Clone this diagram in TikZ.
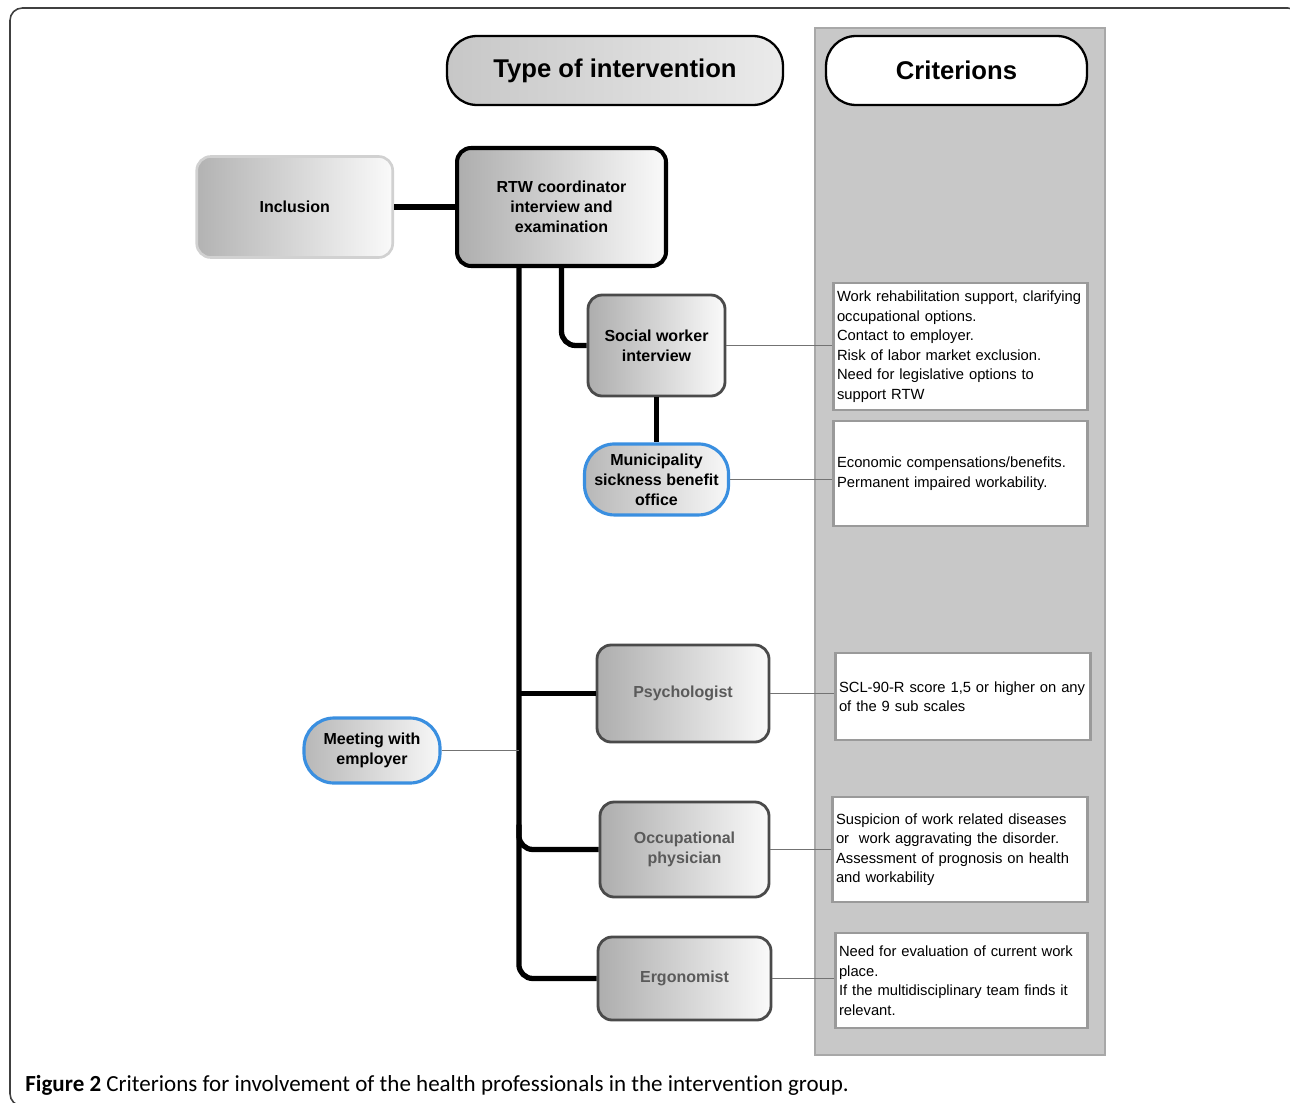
\documentclass[tikz,border=0pt]{standalone}
\usepackage{fontspec}
\setmainfont{Liberation Sans}
\newfontfamily\capfont[Ligatures=NoCommon]{Carlito}
\usetikzlibrary{positioning,calc}

\definecolor{colgray}{HTML}{C8C8C8}
\definecolor{coledge}{HTML}{A8A8A8}
\definecolor{critedge}{HTML}{9A9A9A}
\definecolor{boxedge}{HTML}{4A4A4A}
\definecolor{ovalblue}{HTML}{3A8FE0}
\definecolor{txtgray}{HTML}{5A5A5A}

\tikzset{
  hdr/.style={draw,line width=1.3pt,rounded corners=0.6cm,minimum height=1.38cm,font=\bfseries\fontsize{14.6}{17}\selectfont},
  tbox/.style={draw=boxedge,line width=1.6pt,rounded corners=8pt,left color=black!32,right color=black!2,align=center,inner sep=2pt,font=\bfseries\fontsize{9.1}{11.4}\selectfont},
  oval/.style={draw=ovalblue,line width=1.8pt,rounded corners=0.6cm,left color=black!28,right color=black!3,align=center,inner sep=1pt,font=\bfseries\fontsize{9.1}{11.4}\selectfont},
  crit/.style={draw=critedge,line width=1.3pt,fill=white,align=left,inner sep=2pt,font=\fontsize{8.4}{11.1}\selectfont},
  conn/.style={line width=3pt,black},
  link/.style={line width=0.6pt,black!55}
}

\begin{document}
\begin{tikzpicture}[x=0.02cm,y=-0.02cm]
  \useasboundingbox (0,0) rectangle (1290,1102);
  % frame and criteria column
  \draw[black!75,line width=0.9pt,rounded corners=7pt] (10,8) rectangle (1300,1106);
  \draw[coledge,fill=colgray,line width=1pt] (815,28) rectangle (1105,1055);

  % headings
  \node[hdr,left color=black!22,right color=black!8,minimum width=6.72cm] (typehdr) at (615,70.5) {Type of intervention};
  \node[hdr,fill=white,minimum width=5.22cm] (crithdr) at (956.5,70.5) {Criterions};

  % intervention nodes
  \node[tbox,draw=black,line width=2.3pt,minimum width=4.18cm,minimum height=2.36cm] (rtw) at (561.5,207) {RTW coordinator\\interview and\\examination};
  \node[tbox,draw=black!18,line width=1.5pt,left color=black!30,right color=black!2,minimum width=3.92cm,minimum height=2.02cm,left=1.22cm of rtw] (incl) {Inclusion};
  \node[tbox,minimum width=2.74cm,minimum height=2.02cm] (social) at (656.5,345.5) {Social worker\\interview};
  \node[oval,minimum width=2.88cm,minimum height=1.42cm,below=0.9cm of social] (muni) {Municipality\\sickness benefit\\office};
  \node[tbox,text=txtgray,minimum width=3.44cm,minimum height=1.94cm] (psych) at (683,693.5) {Psychologist};
  \node[tbox,text=txtgray,minimum width=3.38cm,minimum height=1.9cm] (occ) at (684.5,849.5) {Occupational\\physician};
  \node[tbox,text=txtgray,minimum width=3.46cm,minimum height=1.66cm] (ergo) at (684.5,978.5) {Ergonomist};
  \node[oval,minimum width=2.72cm,minimum height=1.3cm] (meet) at (372,750.5) {Meeting with\\employer};

  % criteria boxes
  \node[crit,text width=4.94cm,minimum height=2.54cm] (c1) at (960.5,346.5) {Work rehabilitation support, clarifying\\occupational options.\\Contact to employer.\\Risk of labor market exclusion.\\Need for legislative options to\\support RTW};
  \node[crit,text width=4.94cm,minimum height=2.1cm] (c2) at (960.5,473.5) {Economic compensations/benefits.\\Permanent impaired workability.};
  \node[crit,text width=4.96cm,minimum height=1.74cm] (c3) at (963,696.5) {SCL-90-R score 1,5 or higher on any\\of the 9 sub scales};
  \node[crit,text width=4.96cm,minimum height=2.1cm] (c4) at (960,849.5) {Suspicion of work related diseases\\or\ \ work aggravating the disorder.\\Assessment of prognosis on health\\and workability};
  \node[crit,text width=4.9cm,minimum height=1.9cm] (c5) at (961.5,980.5) {Need for evaluation of current work\\place.\\If the multidisciplinary team finds it\\relevant.};

  % connectors
  \coordinate (trunk) at ($(rtw.south west)!0.3!(rtw.south east)$);
  \draw[conn] (incl.east) -- (incl.east -| rtw.west);
  \draw[conn,rounded corners=8pt] (rtw.south) |- (social.west);
  \draw[conn] (social.south) -- (muni.north);
  \draw[conn,rounded corners=8pt] (trunk) |- (ergo.west);
  \draw[conn] (trunk |- psych.west) -- (psych.west);
  \draw[conn,rounded corners=8pt] ($(trunk |- occ.west)+(0,-25)$) |- (occ.west);
  \draw[link] (meet.east) -- (meet.east -| trunk);
  \draw[link] (social.east) -- (social.east -| c1.west);
  \draw[link] (muni.east) -- (muni.east -| c2.west);
  \draw[link] (psych.east) -- (psych.east -| c3.west);
  \draw[link] (occ.east) -- (occ.east -| c4.west);
  \draw[link] (ergo.east) -- (ergo.east -| c5.west);

  % caption
  \node[anchor=base west,inner sep=0pt,font=\capfont\fontsize{13.1}{15}\selectfont] (caption) at (25,1091) {\textbf{Figure 2} Criterions for involvement of the health professionals in the intervention group.};
\end{tikzpicture}
\end{document}
